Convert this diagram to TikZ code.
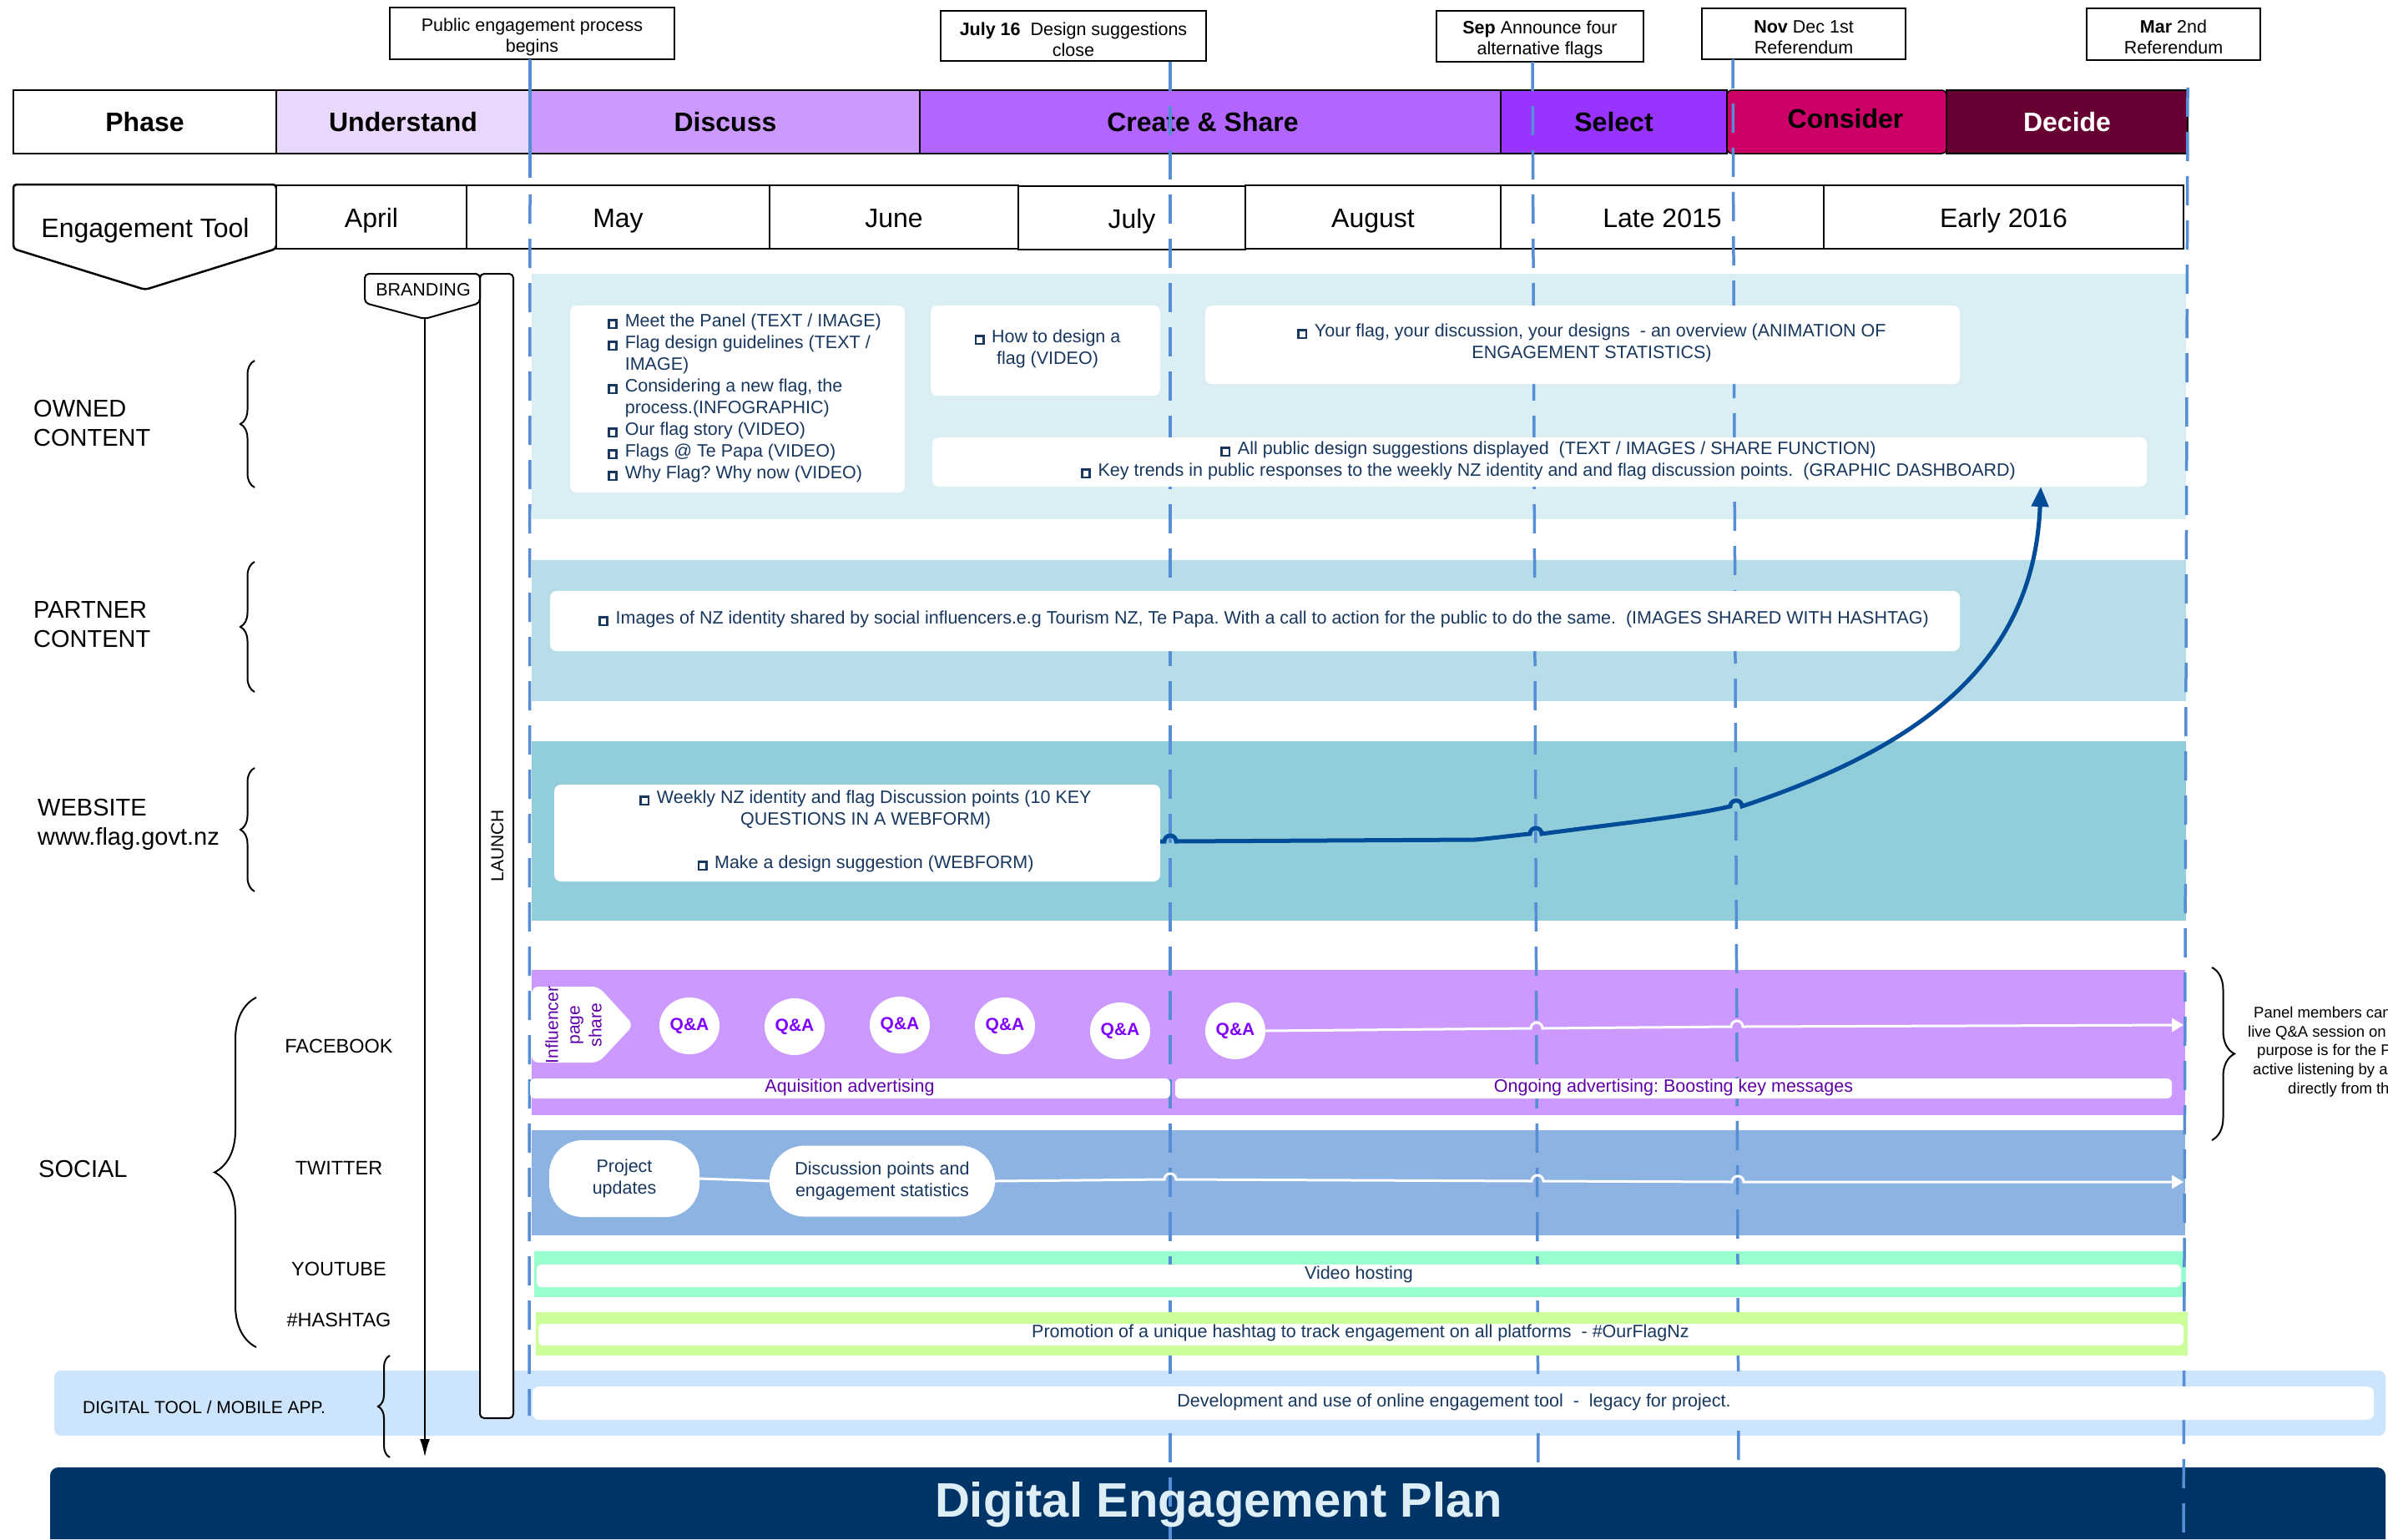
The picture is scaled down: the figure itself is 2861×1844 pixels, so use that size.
\documentclass[tikz,border=0pt]{standalone}
\usepackage{fontspec}
\setmainfont{Liberation Sans}
\usetikzlibrary{arrows.meta,decorations.pathreplacing,shapes.geometric}
\frenchspacing
\definecolor{navyt}{RGB}{23,55,94}
\definecolor{dashc}{RGB}{85,142,213}
\definecolor{curvec}{RGB}{0,76,153}
\definecolor{ownedc}{RGB}{219,238,244}
\definecolor{partnerc}{RGB}{183,222,232}
\definecolor{webc}{RGB}{146,205,220}
\definecolor{fbc}{RGB}{204,153,255}
\definecolor{twc}{RGB}{141,179,226}
\definecolor{ytc}{RGB}{153,255,204}
\definecolor{htc}{RGB}{204,255,153}
\definecolor{digc}{RGB}{204,228,252}
\definecolor{titlec}{RGB}{0,51,102}
\definecolor{titletx}{RGB}{222,238,246}
\definecolor{undc}{RGB}{233,215,253}
\definecolor{discc}{RGB}{204,153,255}
\definecolor{crec}{RGB}{178,102,255}
\definecolor{selc}{RGB}{153,51,255}
\definecolor{conc}{RGB}{204,0,102}
\definecolor{decc}{RGB}{102,0,51}
\definecolor{qac}{RGB}{127,0,255}
\definecolor{dpurp}{RGB}{96,0,170}
\newcommand\sqb{{\fboxsep=0pt\fboxrule=0.13em\fbox{\rule{0pt}{0.3em}\hspace{0.3em}}}\hspace{0.12em}}
\newcommand\sqi{\hphantom{\sqb\ }}
\tikzset{
 hdr/.style={draw=black, line width=2.5, minimum height=76, inner sep=0, font=\fontsize{32}{38}\selectfont\bfseries},
 mon/.style={draw=black, line width=2.5, fill=white, minimum height=76, inner sep=0},
 montxt/.style={anchor=base, inner sep=0, font=\fontsize{32}{38}\selectfont},
 msbox/.style={draw=black, line width=2.5, fill=white, inner sep=0},
 mstext/.style={align=center, inner sep=0, font=\fontsize{21.5}{25.5}\selectfont},
 cbox/.style={fill=white, rounded corners=8},
 ctext/.style={text=navyt, font=\fontsize{21.5}{26}\selectfont, inner sep=0, align=center},
 lbl/.style={font=\fontsize{29}{35}\selectfont, align=left, inner sep=0, anchor=west},
 sublbl/.style={font=\fontsize{23.5}{28}\selectfont, inner sep=0},
 dline/.style={draw=dashc, line width=3.5, dash pattern=on 35pt off 18pt},
 qa/.style={ellipse, fill=white, minimum width=72, minimum height=68, inner sep=0, text=qac, font=\fontsize{21}{25}\selectfont\bfseries},
 wline/.style={draw=white, line width=3},
 brc/.style={draw=black, line width=2, decorate, decoration={brace, amplitude=#1}},
}
\begin{document}
\begin{tikzpicture}[x=1pt,y=-1pt]
\useasboundingbox (0,0) rectangle (2861,1844);

% ---------- bands ----------
\fill[ownedc] (637,328) rectangle (2619,622);
\fill[partnerc] (637,671) rectangle (2619,840);
\fill[webc] (637,888) rectangle (2619,1103);
\fill[fbc] (637,1162) rectangle (2618,1336);
\fill[twc] (637,1354) rectangle (2618,1480);
\fill[ytc] (640,1499) rectangle (2619,1554);
\fill[digc, rounded corners=8] (65,1642) rectangle (2858,1720);
\fill[titlec] (60,1844) {[rounded corners=10] -- (60,1758) -- (2858,1758)} -- (2858,1844) -- cycle;

% ---------- phase row ----------
\node[hdr, minimum width=315] (phase) at (173.5,146) {Phase};
\node[hdr, fill=undc, minimum width=304] (understand) at (483,146) {Understand};
\node[hdr, fill=discc, minimum width=468] (discuss) at (869,146) {Discuss};
\node[hdr, fill=crec, minimum width=696] (create) at (1450,146) {};
\node[inner sep=0, font=\fontsize{32}{38}\selectfont\bfseries] (createt) at (1441,146) {Create \& Share};
\node[hdr, fill=selc, minimum width=271] (select) at (1933.5,146) {Select};
\node[hdr, fill=decc, text=white, minimum width=289] (decide) at (2476.5,146) {Decide};
\node[hdr, fill=conc, minimum width=263, rounded corners=6, line width=1.5] (consider) at (2200.5,146) {};
\node[inner sep=0, font=\fontsize{32}{38}\selectfont\bfseries] (considert) at (2211,142) {Consider};

% ---------- month row ----------
\draw[line width=2.5, fill=white, rounded corners=4] (16,221) -- (331,221) -- (331,298) -- (174,347) -- (16,298) -- cycle;
\node[montxt] (engtool) at (174,284.5) {Engagement Tool};
\node[mon, minimum width=228] (april) at (445,260) {};
\node[mon, minimum width=363] (may) at (740.5,260) {};
\node[mon, minimum width=298] (june) at (1071,260) {};
\node[mon, minimum width=272] (july) at (1356,261) {};
\node[mon, minimum width=306] (august) at (1645,260) {};
\node[mon, minimum width=387] (late) at (1991.5,260) {};
\node[mon, minimum width=431] (early) at (2400.5,260) {};
\node[montxt] (aprilt) at (445,272.5) {April};
\node[montxt] (mayt) at (740.5,272.5) {May};
\node[montxt] (junet) at (1071,272.5) {June};
\node[montxt] (julyt) at (1356,273.5) {July};
\node[montxt] (augustt) at (1645,272.5) {August};
\node[montxt] (latet) at (1991.5,272.5) {Late 2015};
\node[montxt] (earlyt) at (2400.5,272.5) {Early 2016};

% ---------- milestone boxes ----------
\node[msbox, minimum width=341, minimum height=62] (m1) at (637.5,40) {};
\node[mstext] (m1t) at (637.5,44.5) {Public engagement process\\begins};
\node[msbox, minimum width=318, minimum height=60] (m2) at (1286,43) {};
\node[mstext] (m2t) at (1286,47.5) {\textbf{July 16}\ \ Design suggestions\\close};
\node[msbox, minimum width=248, minimum height=61] (m3) at (1845,43.5) {};
\node[mstext] (m3t) at (1845,47.5) {\textbf{Sep} Announce four\\alternative flags};
\node[msbox, minimum width=244, minimum height=61] (m4) at (2161,40.5) {};
\node[mstext] (m4t) at (2161,44.5) {\textbf{Nov} Dec 1st\\Referendum};
\node[msbox, minimum width=208, minimum height=62] (m5) at (2604,41) {};
\node[mstext] (m5t) at (2604,44.5) {\textbf{Mar} 2nd\\Referendum};

% ---------- dashed timeline lines ----------
\draw[dashc, line width=3.5] (635,71) -- (635,213);
\draw[dline] (635,233) -- (634,1696);
\draw[dline] (1402,74) -- (1402,1844);
\draw[dline] (1836,74) -- (1843,1758);
\draw[dline] (2076,71) -- (2083,1758);
\draw[dline] (2621,105) -- (2616,1844);

% ---------- owned content ----------
\fill[cbox] (683,366) rectangle (1084,590);
\node[ctext, align=left, anchor=west] (ownlist) at (728,477) {\sqb\ Meet the Panel (TEXT / IMAGE)\\
\sqb\ Flag design guidelines (TEXT /\\
\sqi IMAGE)\\
\sqb\ Considering a new flag, the\\
\sqi process.(INFOGRAPHIC)\\
\sqb\ Our flag story (VIDEO)\\
\sqb\ Flags @ Te Papa (VIDEO)\\
\sqb\ Why Flag? Why now (VIDEO)};
\fill[cbox] (1115,366) rectangle (1390,474);
\node[ctext] (howto) at (1255,418) {\sqb\ How to design a\\flag (VIDEO)};
\fill[cbox] (1444,366) rectangle (2348,460);
\node[ctext] (overview) at (1907,411) {\sqb\ Your flag, your discussion, your designs\ \ - an overview (ANIMATION OF\\ENGAGEMENT STATISTICS)};
\fill[cbox] (1117,524) rectangle (2572,583);
\node[ctext] (allpublic) at (1855,552) {\sqb\ All public design suggestions displayed\ \ (TEXT / IMAGES / SHARE FUNCTION)\\
\sqb\ Key trends in public responses to the weekly NZ identity and and flag discussion points.\ \ (GRAPHIC DASHBOARD)};

% ---------- partner content ----------
\fill[cbox] (659,708) rectangle (2348,780);
\node[ctext] (partnertxt) at (1514,742) {\sqb\ Images of NZ identity shared by social influencers.e.g Tourism NZ, Te Papa. With a call to action for the public to do the same.\ \ (IMAGES SHARED WITH HASHTAG)};

% ---------- website ----------
\node[fill=white, rounded corners=8, minimum width=726, minimum height=116, inner sep=0] (webbox) at (1027,998) {};
\node[ctext] (webtxt) at (1037,996) {\sqb\ Weekly NZ identity and flag Discussion points (10 KEY\\QUESTIONS IN A WEBFORM)\\[26pt]\sqb\ Make a design suggestion (WEBFORM)};
\coordinate (wstart) at (1390,1008);
\coordinate (wtip) at (2445,583);
\draw[line width=5, curvec, -{Triangle[length=24pt,width=20pt]}] (wstart) -- (1395,1008) arc[start angle=180,end angle=360,radius=7] -- (1767,1006) .. controls (1790,1004) and (1812,1001) .. (1833,999) arc[start angle=180,end angle=360,radius=7] .. controls (1952,985) and (2022,978) .. (2073,966) arc[start angle=180,end angle=360,radius=7] .. controls (2307,893) and (2437,790) .. (wtip);

% ---------- facebook ----------
\fill[white, rounded corners=8] (637,1182) -- (717,1182) -- (759,1228) -- (717,1273) -- (637,1273) -- cycle;
\node[rotate=90, align=center, text=dpurp, font=\fontsize{21}{26}\selectfont, inner sep=0] (infl) at (687,1228) {Influencer\\page\\share};
\node[qa] (q1) at (826,1229) {Q\&A};
\node[qa] (q2) at (952,1230) {Q\&A};
\node[qa] (q3) at (1078,1228) {Q\&A};
\node[qa] (q4) at (1204,1229) {Q\&A};
\node[qa] (q5) at (1342,1235) {Q\&A};
\node[qa] (q6) at (1480,1235) {Q\&A};
\coordinate (fbend) at (2616,1228);
\draw[wline, -{Triangle[length=14pt,width=16pt]}] (q6.east) -- (1834,1232) arc[start angle=180,end angle=360,radius=7] -- (2074,1230) arc[start angle=180,end angle=360,radius=7] -- (fbend);
\fill[white, rounded corners=6] (635,1292) rectangle (1402,1316);
\fill[white, rounded corners=6] (1408,1292) rectangle (2602,1316);
\node[inner sep=0, text=dpurp, font=\fontsize{21.5}{26}\selectfont] (acq) at (1018,1303) {Aquisition advertising};
\node[inner sep=0, text=dpurp, font=\fontsize{21.5}{26}\selectfont] (ongoing) at (2005,1303) {Ongoing advertising: Boosting key messages};

% ---------- twitter ----------
\node[fill=white, rounded corners=40, minimum width=180, minimum height=92, inner sep=0, ctext] (proj) at (748,1412) {Project\\updates};
\node[fill=white, rounded corners=42, minimum width=270, minimum height=85, inner sep=0, ctext] (disc) at (1057,1415) {Discussion points and\\engagement statistics};
\draw[wline] (proj.east) -- (disc.west);
\coordinate (twend) at (2616,1416);
\draw[wline, -{Triangle[length=14pt,width=16pt]}] (disc.east) -- (1395,1413) arc[start angle=180,end angle=360,radius=7] -- (1835,1415) arc[start angle=180,end angle=360,radius=7] -- (2075,1416) arc[start angle=180,end angle=360,radius=7] -- (twend);

% ---------- youtube / hashtag / digital ----------
\fill[white, rounded corners=6] (643,1515) rectangle (2613,1542);
\node[ctext] (video) at (1628,1527) {Video hosting};
\fill[htc] (642,1572) rectangle (2621,1624);
\fill[white, rounded corners=6] (645,1586) rectangle (2616,1612);
\node[ctext] (hashtxt) at (1630,1597) {Promotion of a unique hashtag to track engagement on all platforms\ \ - \#OurFlagNz};
\fill[white, rounded corners=8] (638,1661) rectangle (2844,1701);
\node[ctext] (devtxt) at (1742,1680) {Development and use of online engagement tool\ \ -\ \ legacy for project.};

% ---------- left labels ----------
\node[lbl] (owned) at (40,507) {OWNED\\CONTENT};
\node[lbl] (partner) at (40,748) {PARTNER\\CONTENT};
\node[lbl] (website) at (45,988) {WEBSITE\\www.flag.govt.nz};
\node[lbl] (social) at (46,1400) {SOCIAL};
\node[sublbl] (facebook) at (406,1253) {FACEBOOK};
\node[sublbl] (twitter) at (406,1399) {TWITTER};
\node[sublbl] (youtube) at (406,1520) {YOUTUBE};
\node[sublbl] (hashtag) at (406,1581) {\#HASHTAG};
\node[inner sep=0, anchor=west, font=\fontsize{21}{25}\selectfont] (digital) at (99,1686) {DIGITAL TOOL / MOBILE APP.};

\draw[brc=17] (305,584) -- (305,432);
\draw[brc=17] (305,829) -- (305,673);
\draw[brc=17] (305,1068) -- (305,920);
\draw[brc=50] (307,1614) -- (307,1195);
\draw[brc=14] (467,1746) -- (467,1624);
\draw[brc=27] (2650,1159) -- (2650,1366);

% ---------- branding / launch ----------
\draw[fill=white, line width=2, rounded corners=5] (575,328) rectangle (615,1699);
\node[rotate=90, inner sep=0, font=\fontsize{21}{25}\selectfont] (launch) at (596,1013) {LAUNCH};
\draw[fill=white, line width=2, rounded corners=5] (437,363) -- (437,328) -- (575,328) -- (575,363) -- (509,382) -- cycle;
\node[inner sep=0, font=\fontsize{21.5}{25}\selectfont] (branding) at (507,347) {BRANDING};
\coordinate (brtip) at (509,382);
\coordinate (brend) at (509,1746);
\draw[line width=2.5, -{Latex[length=22pt,width=12pt]}] (brtip) -- (brend);

% ---------- right note ----------
\begin{scope}
\clip (2600,1150) rectangle (2861,1400);
\node[anchor=north west, align=left, inner sep=0, font=\fontsize{18.5}{22.6}\selectfont] (paneltxt) at (2693,1206) {\hspace*{7pt}Panel members can\\live Q\&A session on\\\hspace*{11pt}purpose is for the P\\\hspace*{6pt}active listening by a\\\hspace*{48pt}directly from the};
\end{scope}

% ---------- title ----------
\node[inner sep=0, text=titletx, font=\fontsize{58}{70}\selectfont\bfseries] (title) at (1460,1803) {Digital Engagement Plan};
\end{tikzpicture}
\end{document}
